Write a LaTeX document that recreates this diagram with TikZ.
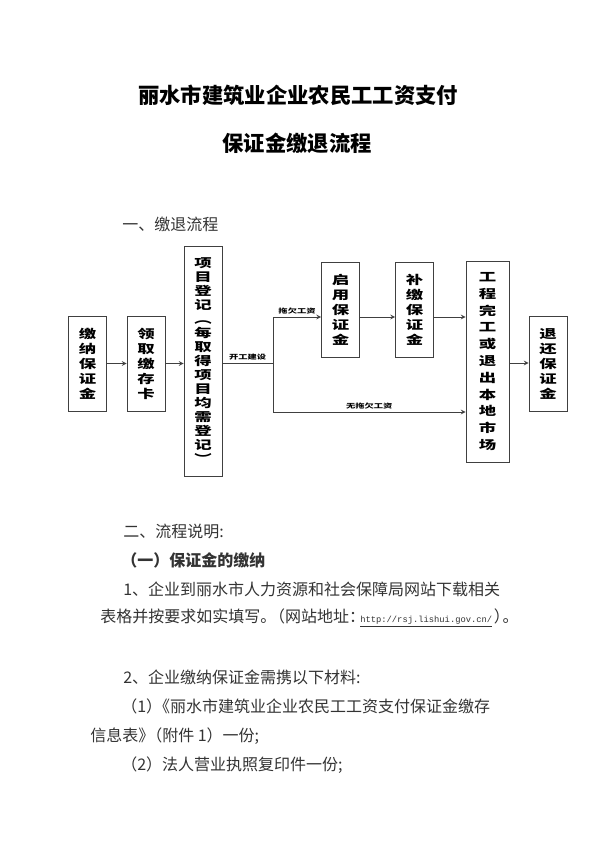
\documentclass[tikz,border=0pt]{standalone}
\usepackage{fontspec}
\setmainfont{Noto Sans CJK SC}
\setmonofont{Liberation Mono}
\newfontfamily\boxfont{Noto Sans CJK SC}[FakeStretch=1.45]
\usetikzlibrary{arrows, positioning}

\begin{document}
\begin{tikzpicture}[
    x=0.75pt, y=-0.75pt,
    flowbox/.style={draw=black!75, line width=0.6pt, align=center, inner sep=0pt, minimum width=28.5pt, minimum height=71.25pt, fill=white, font=\boxfont\bfseries\fontsize{9}{11.25}\selectfont},
    edgetag/.style={font=\boxfont\bfseries\fontsize{4.8}{5}\selectfont, inner sep=2pt},
    bodytext/.style={anchor=west, inner sep=0pt, text=black!80, font=\fontsize{12}{14}\selectfont},
    arrow/.style={->, >=stealth, draw=black!75, line width=0.6pt},
    link/.style={-, draw=black!75, line width=0.6pt}
]
    \useasboundingbox[fill=white] (0,0) rectangle (600,848);

    % title
    \node[font=\bfseries\fontsize{16}{18}\selectfont] (title1) at (298,95) {丽水市建筑业企业农民工工资支付};
    \node[font=\bfseries\fontsize{16}{18}\selectfont] (title2) at (297,143) {保证金缴退流程};

    \node[bodytext] (sec1) at (122,224) {一、缴退流程};

    % flow chart
    \node[flowbox] (pay) at (87.5,363.5) {缴\\纳\\保\\证\\金};
    \node[flowbox] (card) at (146,363.5) {领\\取\\缴\\存\\卡};
    \node[flowbox, minimum height=172.5pt, font=\boxfont\bfseries\fontsize{9}{10.5}\selectfont] (reg) at (203,361) {项\\目\\登\\记\\︵\\每\\取\\得\\项\\目\\均\\需\\登\\记\\︶};
    \node[flowbox] (use) at (340.5,309.5) {启\\用\\保\\证\\金};
    \node[flowbox] (refill) at (414.5,309.5) {补\\缴\\保\\证\\金};
    \node[flowbox, minimum width=32.25pt, minimum height=150.75pt, font=\boxfont\bfseries\fontsize{9}{12.6}\selectfont] (finish) at (487.5,361.5) {工\\程\\完\\工\\或\\退\\出\\本\\地\\市\\场};
    \node[flowbox] (back) at (548,363.5) {退\\还\\保\\证\\金};

    \coordinate (split) at (273,363);
    \coordinate (up) at (273,317);
    \coordinate (down) at (273,412);

    \draw[arrow] (pay) -- (card);
    \draw[arrow] (card) -- (reg.west |- card);
    \draw[link] (reg.east |- split) -- node[edgetag, above] {开工建设} (split);
    \draw[link] (up) -- (down);
    \draw[arrow] (up) -- node[edgetag, above] {拖欠工资} (use.west |- up);
    \draw[arrow] (use.east |- up) -- (refill.west |- up);
    \draw[arrow] (refill.east |- up) -- (finish.west |- up);
    \draw[arrow] (down) -- node[edgetag, above] {无拖欠工资} (finish.west |- down);
    \draw[arrow] (finish.east |- split) -- (back.west |- split);

    % description
    \node[bodytext] (sec2) at (123,531) {二、流程说明:};
    \node[bodytext, font=\bfseries\fontsize{12}{14}\selectfont] (sub1) at (121,560) {（一）保证金的缴纳};
    \node[bodytext] (p1a) at (123,589) {1、企业到丽水市人力资源和社会保障局网站下载相关};
    \node[bodytext] (p1b) at (100,618) {表格并按要求如实填写。\kern-0.45em（网站地址：\kern-0.3em{\ttfamily\fontsize{6.6}{8}\selectfont\underline{http://rsj.lishui.gov.cn/}}\kern0.1em）\kern-0.45em。};
    \node[bodytext] (p2) at (123,677) {2、企业缴纳保证金需携以下材料:};
    \node[bodytext] (p2a) at (121,706) {（1）\kern-0.5em《丽水市建筑业企业农民工工资支付保证金缴存};
    \node[bodytext] (p2b) at (90,736) {信息表》\kern-0.5em（附件 1）一份;};
    \node[bodytext] (p2c) at (121,765) {（2）法人营业执照复印件一份;};
\end{tikzpicture}
\end{document}
